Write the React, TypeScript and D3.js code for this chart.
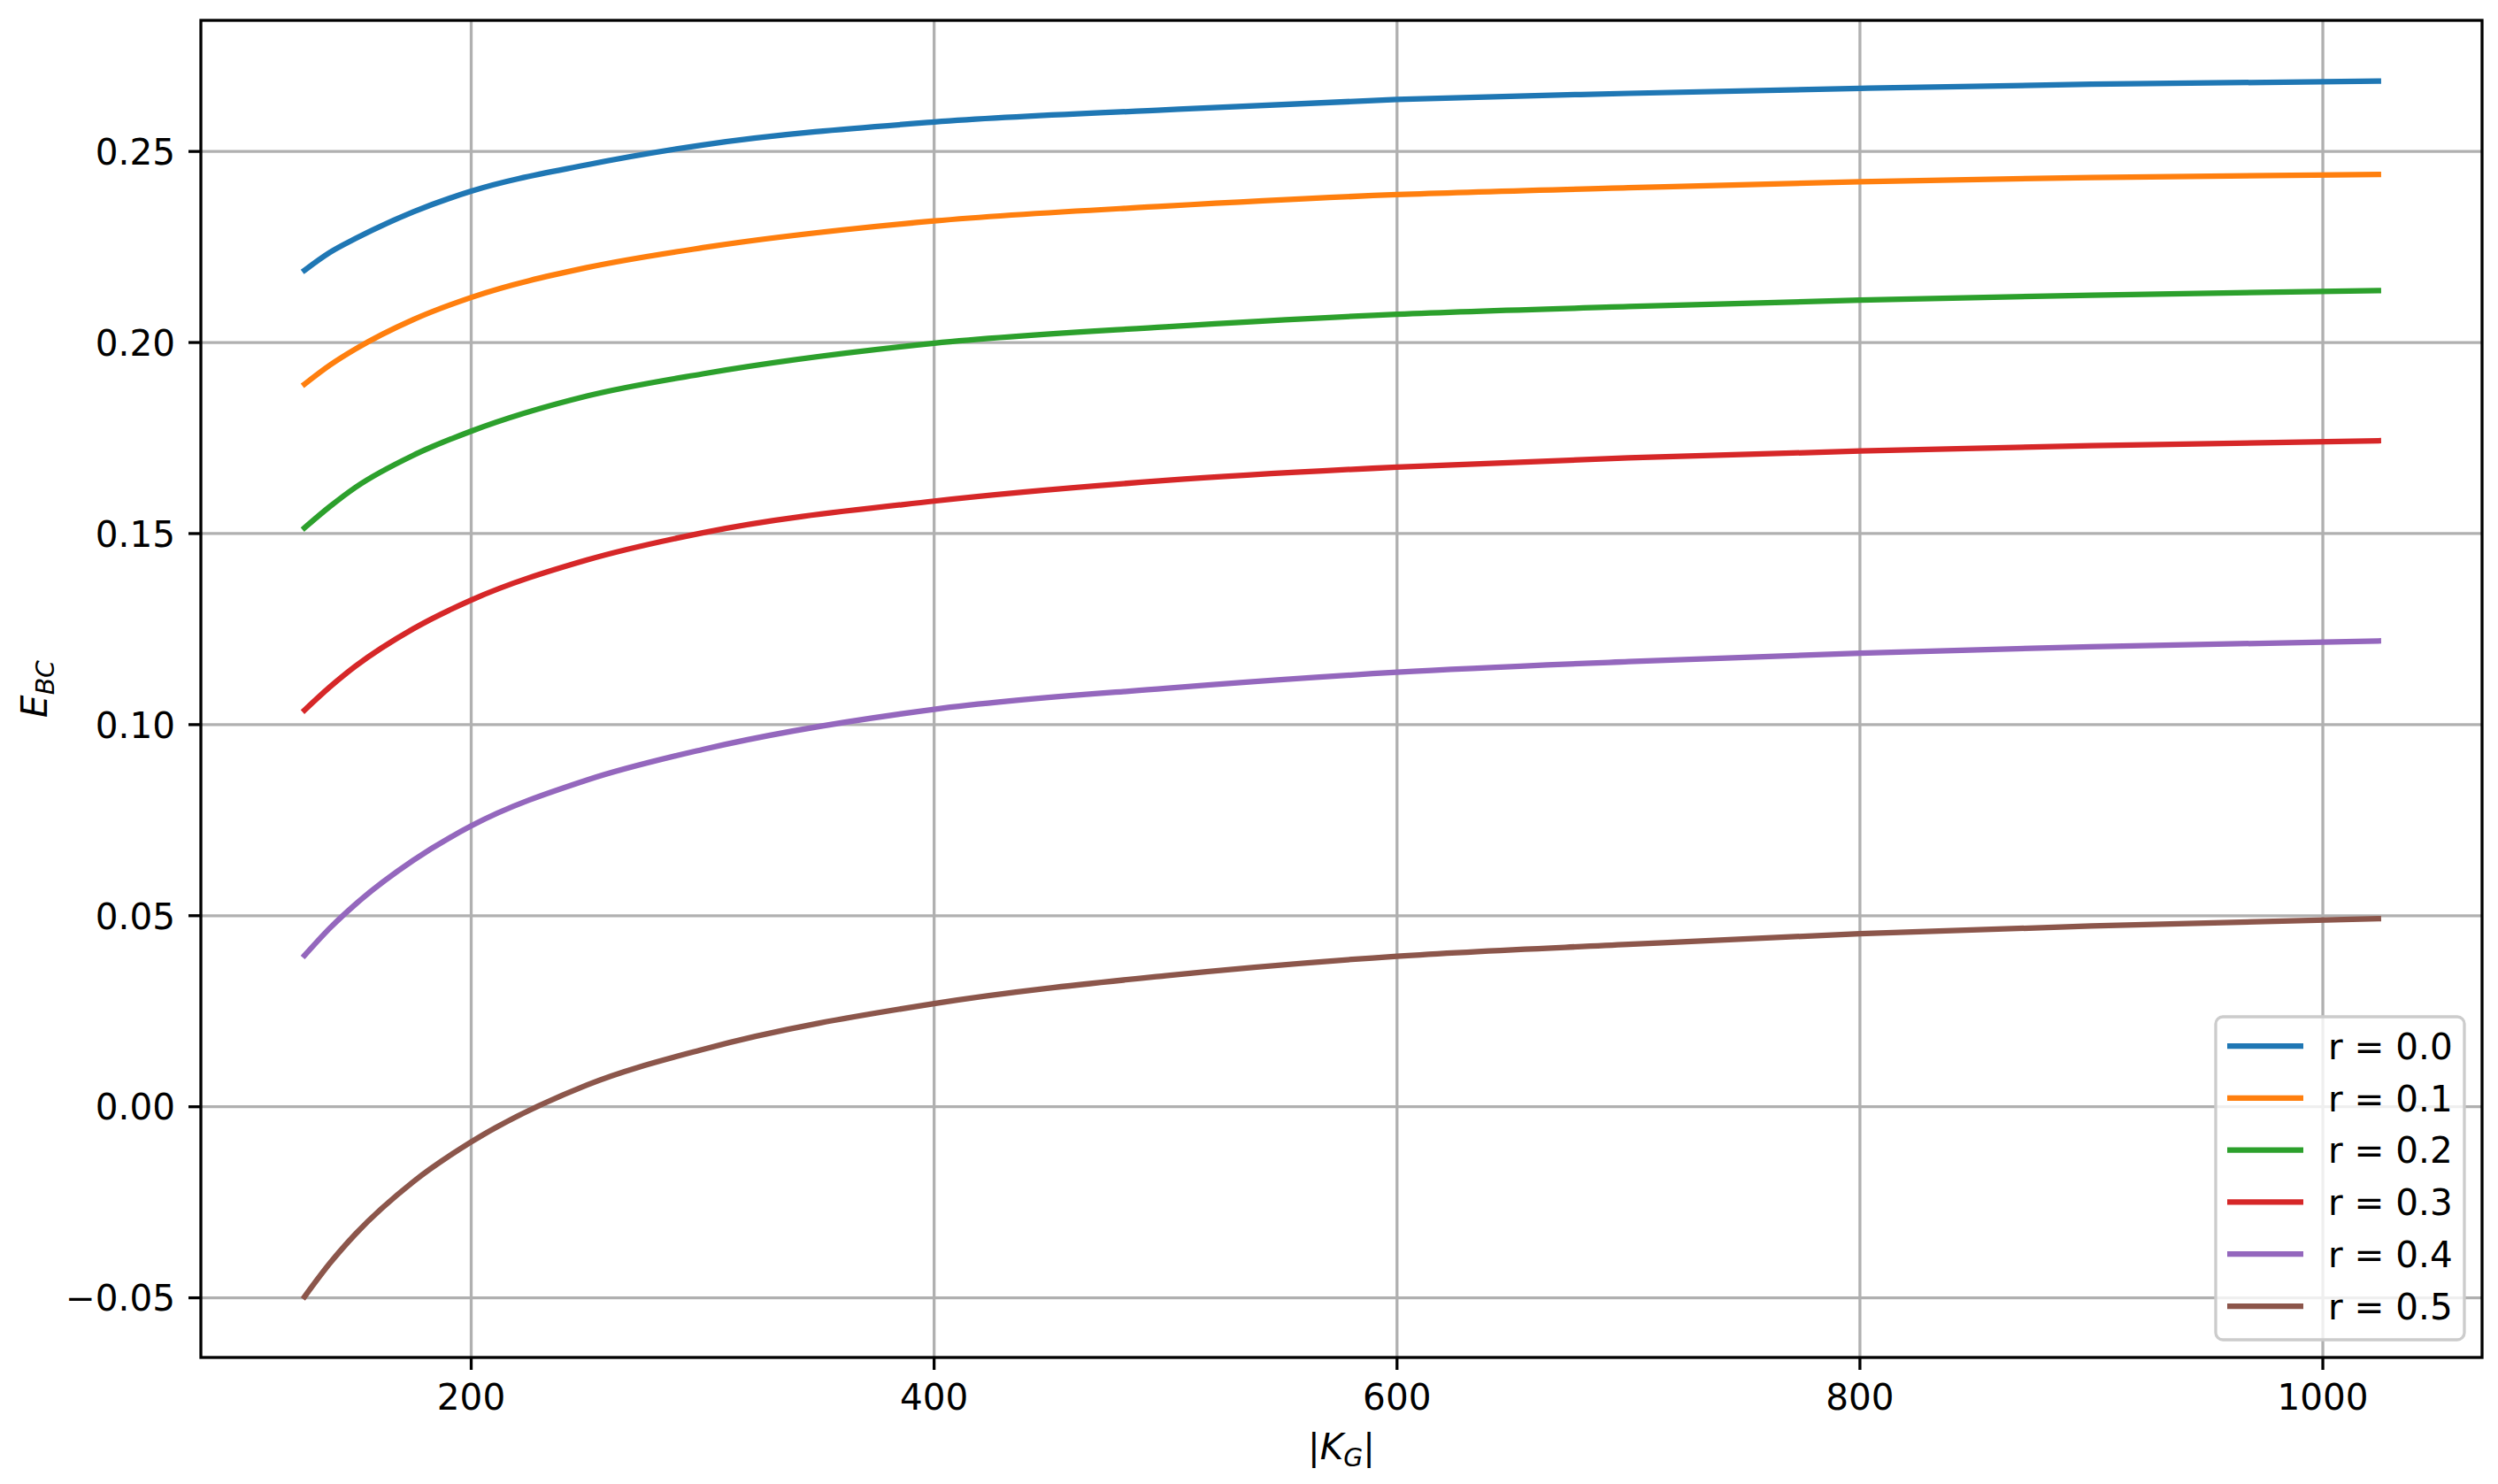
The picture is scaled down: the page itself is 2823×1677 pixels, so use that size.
import React from "react";
import * as d3 from "d3";

const kG = [128, 139, 150, 175, 200, 250, 300, 400, 500, 600, 700, 800, 900, 1024];
const r00 = [0.2189, 0.2236, 0.2272, 0.2342, 0.2396, 0.2465, 0.2517, 0.2577, 0.2609, 0.2636, 0.2652, 0.2665, 0.2676, 0.2684];
const r01 = [0.1891, 0.1941, 0.1983, 0.2060, 0.2118, 0.2196, 0.2248, 0.2318, 0.2357, 0.2387, 0.2405, 0.2421, 0.2432, 0.2440];
const r02 = [0.1515, 0.1571, 0.1621, 0.1705, 0.1768, 0.1860, 0.1918, 0.1998, 0.2041, 0.2074, 0.2094, 0.2111, 0.2124, 0.2136];
const r03 = [0.1038, 0.1099, 0.1153, 0.1251, 0.1326, 0.1431, 0.1502, 0.1585, 0.1639, 0.1674, 0.1698, 0.1716, 0.1730, 0.1743];
const r04 = [0.0396, 0.0468, 0.0530, 0.0645, 0.0735, 0.0855, 0.0935, 0.1040, 0.1095, 0.1137, 0.1165, 0.1187, 0.1204, 0.1219];
const r05 = [-0.0497, -0.0409, -0.0333, -0.0196, -0.0092, 0.0057, 0.0150, 0.0270, 0.0343, 0.0394, 0.0425, 0.0453, 0.0473, 0.0492];

const seriesNames = ["r = 0.0", "r = 0.1", "r = 0.2", "r = 0.3", "r = 0.4", "r = 0.5"];
const seriesValues = [r00, r01, r02, r03, r04, r05];
const colors = ["#1f77b4", "#ff7f0e", "#2ca02c", "#d62728", "#9467bd", "#8c564b"];
const xTicks = [200, 400, 600, 800, 1000];
const yTicks = [-0.05, 0, 0.05, 0.1, 0.15, 0.2, 0.25];

const W = 2823;
const H = 1677;
const left = 227;
const right = 2805;
const top = 23;
const bottom = 1534;
const fs = 40.5;
const lw = 3.3;
const tickLen = 14;
const font = "'DejaVu Sans', sans-serif";

function fmtY(v: number): string {
  const s = Math.abs(v).toFixed(2);
  return v < -1e-9 ? "\u2212" + s : s;
}

export default function App() {
  const xMin = d3.min(kG) as number;
  const xMax = d3.max(kG) as number;
  const allY = seriesValues.flat();
  const yMin = d3.min(allY) as number;
  const yMax = d3.max(allY) as number;
  const xPad = (xMax - xMin) * 0.05;
  const yPad = (yMax - yMin) * 0.05;

  const x = d3.scaleLinear().domain([xMin - xPad, xMax + xPad]).range([left, right]);
  const y = d3.scaleLinear().domain([yMin - yPad, yMax + yPad]).range([bottom, top]);

  const line = d3
    .line<[number, number]>()
    .x((d) => x(d[0]))
    .y((d) => y(d[1]))
    .curve(d3.curveMonotoneX);

  // legend geometry
  const legX0 = 2504;
  const legX1 = 2785;
  const legY0 = 1149;
  const legY1 = 1514;
  const rowY0 = 1182;
  const rowStep = 58.8;

  return (
    <svg
      width={W}
      height={H}
      style={{ position: "absolute", left: 0, top: 0, background: "#fff" }}
      fontFamily={font}
    >
      <rect x={0} y={0} width={W} height={H} fill="#fff" />
      {/* grid */}
      <g stroke="#b0b0b0" strokeWidth={lw}>
        {xTicks.map((t) => (
          <line key={"gx" + t} x1={x(t)} x2={x(t)} y1={top} y2={bottom} />
        ))}
        {yTicks.map((t) => (
          <line key={"gy" + t} x1={left} x2={right} y1={y(t)} y2={y(t)} />
        ))}
      </g>
      {/* series */}
      <g fill="none" strokeWidth={6.25} strokeLinecap="square" strokeLinejoin="round">
        {seriesValues.map((vals, i) => (
          <path
            key={seriesNames[i]}
            d={line(kG.map((k, j) => [k, vals[j]] as [number, number])) || ""}
            stroke={colors[i]}
          />
        ))}
      </g>
      {/* frame */}
      <rect
        x={left}
        y={top}
        width={right - left}
        height={bottom - top}
        fill="none"
        stroke="#000"
        strokeWidth={lw}
      />
      {/* x ticks */}
      <g>
        {xTicks.map((t) => (
          <g key={"xt" + t}>
            <line x1={x(t)} x2={x(t)} y1={bottom} y2={bottom + tickLen} stroke="#000" strokeWidth={lw} />
            <text x={x(t)} y={1593} fontSize={fs} textAnchor="middle" fill="#000">
              {String(t)}
            </text>
          </g>
        ))}
      </g>
      {/* y ticks */}
      <g>
        {yTicks.map((t) => (
          <g key={"yt" + t}>
            <line x1={left - tickLen} x2={left} y1={y(t)} y2={y(t)} stroke="#000" strokeWidth={lw} />
            <text x={198} y={y(t) + 0.364 * fs} fontSize={fs} textAnchor="end" fill="#000">
              {fmtY(t)}
            </text>
          </g>
        ))}
      </g>
      {/* x label */}
      <text x={(left + right) / 2} y={1649} fontSize={fs} textAnchor="middle" fill="#000">
        <tspan>|</tspan>
        <tspan fontStyle="italic">K</tspan>
        <tspan fontStyle="italic" fontSize={fs * 0.7} dy={8}>G</tspan>
        <tspan dy={-8}>|</tspan>
      </text>
      {/* y label */}
      <text
        transform={`translate(53,${(top + bottom) / 2}) rotate(-90)`}
        fontSize={fs}
        textAnchor="middle"
        fill="#000"
      >
        <tspan fontStyle="italic">E</tspan>
        <tspan fontStyle="italic" fontSize={fs * 0.7} dy={8}>BC</tspan>
      </text>
      {/* legend */}
      <rect
        x={legX0}
        y={legY0}
        width={legX1 - legX0}
        height={legY1 - legY0}
        rx={8}
        ry={8}
        fill="#fff"
        fillOpacity={0.8}
        stroke="#cccccc"
        strokeWidth={lw}
      />
      {seriesNames.map((name, i) => {
        const ry = rowY0 + i * rowStep;
        return (
          <g key={"leg" + name}>
            <line x1={2517} x2={2603} y1={ry} y2={ry} stroke={colors[i]} strokeWidth={6.25} />
            <text x={2631} y={ry + 0.364 * fs} fontSize={fs} fill="#000">
              {name}
            </text>
          </g>
        );
      })}
    </svg>
  );
}
